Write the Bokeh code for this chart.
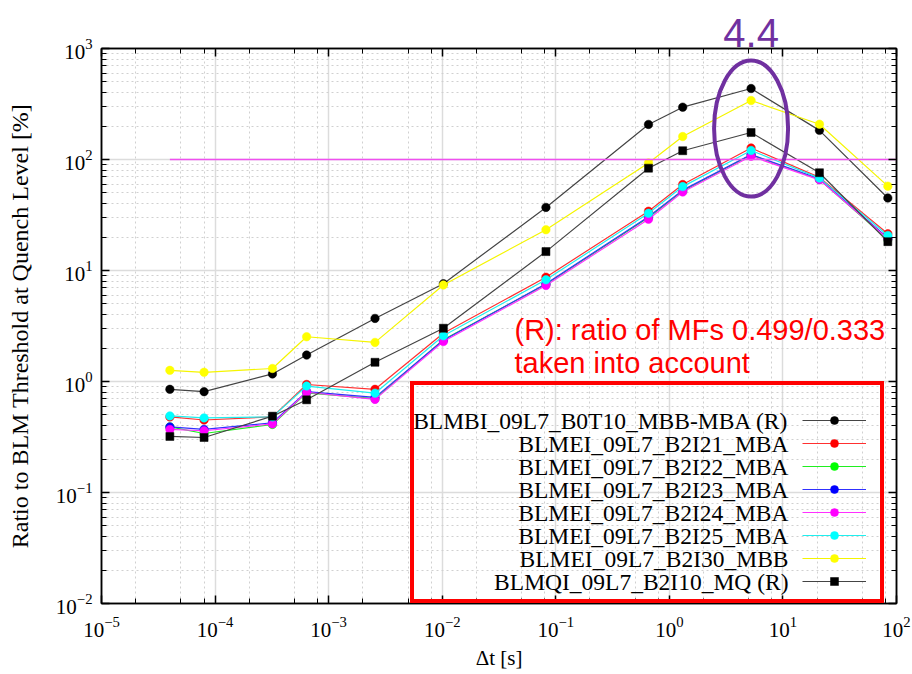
from bokeh.plotting import figure
from bokeh.models import (LogAxis, FixedTicker, Label, Legend,
                          LegendItem, CustomJSTickFormatter)
from bokeh.embed import file_html
from bokeh.resources import INLINE

# ---------------- data ----------------
dt = [4.0e-5, 8.0e-5, 3.2e-4, 6.4e-4, 2.56e-3, 1.024e-2, 8.192e-2, 0.655, 1.311, 5.243, 20.97, 83.89]

names = [
    "BLMBI_09L7_B0T10_MBB-MBA (R)",
    "BLMEI_09L7_B2I21_MBA",
    "BLMEI_09L7_B2I22_MBA",
    "BLMEI_09L7_B2I23_MBA",
    "BLMEI_09L7_B2I24_MBA",
    "BLMEI_09L7_B2I25_MBA",
    "BLMEI_09L7_B2I30_MBB",
    "BLMQI_09L7_B2I10_MQ (R)",
]
blmbi_b0t10 = [0.85, 0.81, 1.17, 1.73, 3.7, 7.6, 37.0, 207.0, 296.0, 436.0, 183.0, 45.0]
blmei_b2i21 = [0.48, 0.45, 0.48, 0.94, 0.85, 2.72, 8.7, 34.2, 59.5, 127.0, 69.0, 21.4]
blmei_b2i22 = [0.39, 0.34, 0.41, 0.79, 0.70, 2.38, 7.5, 30.0, 52.0, 110.0, 66.0, 19.0]
blmei_b2i23 = [0.39, 0.37, 0.425, 0.81, 0.72, 2.35, 7.6, 30.5, 53.0, 111.0, 67.0, 19.6]
blmei_b2i24 = [0.37, 0.36, 0.415, 0.80, 0.69, 2.29, 7.33, 29.0, 51.0, 107.0, 65.6, 19.3]
blmei_b2i25 = [0.49, 0.47, 0.48, 0.91, 0.785, 2.58, 8.25, 32.8, 57.0, 120.5, 68.0, 20.7]
blmei_b2i30 = [1.26, 1.21, 1.31, 2.53, 2.25, 7.4, 23.3, 93.0, 161.0, 340.0, 208.0, 57.5]
blmqi_b2i10 = [0.32, 0.313, 0.487, 0.684, 1.49, 3.02, 14.8, 83.5, 120.0, 175.0, 76.0, 18.2]
values = [blmbi_b0t10, blmei_b2i21, blmei_b2i22, blmei_b2i23,
          blmei_b2i24, blmei_b2i25, blmei_b2i30, blmqi_b2i10]

marker_colors = ["black", "#ff0000", "#00ff00", "#0000ff", "#ff00ff", "#00ffff", "#ffff00", "black"]
line_colors = ["#444444", "#ff3030", "#20ee20", "#3030ff", "#ff30ff", "#20eeee", "#f5f500", "#444444"]
markers = ["circle"] * 7 + ["square"]

# quench level reference (100 %)
ref_x0, ref_x1 = 4.0e-5, 100.0
ref_level = 100.0

# highlighted point
peak_x = 5.243
peak_y = 190.0
peak_text = "4.4"
note_lines = ["(R): ratio of MFs 0.499/0.333", "taken into account"]

x_major = [10.0 ** e for e in range(-5, 3)]
x_minor = [k * 10.0 ** e for e in range(-5, 2) for k in (2, 5, 8)]
y_major = [10.0 ** e for e in range(-2, 4)]
y_minor = [k * 10.0 ** e for e in range(-2, 3) for k in range(2, 10)]

# ---------------- figure ----------------
W, H = 912, 674
ML, MR, MT, MB = 101, 16, 48, 71
FB = H - MB  # canvas y of the frame bottom

p = figure(width=W, height=H, x_axis_type="log", y_axis_type="log",
           x_range=(1e-5, 1e2), y_range=(1e-2, 1e3),
           min_border_left=ML, min_border_right=MR, min_border_top=MT, min_border_bottom=MB,
           output_backend="svg", toolbar_location=None,
           background_fill_color="white", border_fill_color="white")
p.outline_line_color = "black"
p.outline_line_width = 1.5

xt = FixedTicker(ticks=x_major, minor_ticks=x_minor)
yt = FixedTicker(ticks=y_major, minor_ticks=y_minor)
p.xaxis.ticker = xt
p.yaxis.ticker = yt
p.xgrid.ticker = xt
p.ygrid.ticker = yt

for g in (p.xgrid, p.ygrid):
    g.grid_line_color = "#dcdcdc"
    g.grid_line_width = 1.5
    g.minor_grid_line_color = "#d0d0d0"
    g.minor_grid_line_width = 1
    g.minor_grid_line_dash = "2 3"

SERIF = "Liberation Serif"
SANS = "Liberation Sans"


def style_axis(ax):
    ax.axis_line_color = "black"
    ax.axis_line_width = 1.5
    ax.major_tick_line_color = "black"
    ax.major_tick_line_width = 1.5
    ax.minor_tick_line_color = "black"
    ax.minor_tick_line_width = 1
    ax.major_tick_in = 8
    ax.major_tick_out = 0
    ax.minor_tick_in = 5
    ax.minor_tick_out = 0
    ax.major_label_text_font = SERIF
    ax.major_label_text_color = "black"


for ax in (p.xaxis[0], p.yaxis[0]):
    style_axis(ax)
    ax.major_label_text_font_size = "21px"
    ax.axis_label_text_font = SERIF
    ax.axis_label_text_font_style = "normal"
    ax.axis_label_text_color = "black"

p.xaxis.major_label_standoff = 13
p.yaxis.major_label_standoff = 9
p.xaxis.axis_label = "Δt [s]"
p.xaxis.axis_label_text_font_size = "21px"
p.xaxis.axis_label_standoff = 6
p.yaxis.axis_label = "Ratio to BLM Threshold at Quench Level [%]"
p.yaxis.axis_label_text_font_size = "24px"
p.yaxis.axis_label_standoff = 20

blank = CustomJSTickFormatter(code="return ''")
top_ax = LogAxis(ticker=xt, formatter=blank, major_label_standoff=0,
                 major_label_text_font_size="1px")
right_ax = LogAxis(ticker=yt, formatter=blank, major_label_standoff=0,
                   major_label_text_font_size="1px")
style_axis(top_ax)
style_axis(right_ax)
p.add_layout(top_ax, "above")
p.add_layout(right_ax, "right")

# value written above the highlighted point (an unlined top axis with one tick)
peak_ax = LogAxis(ticker=FixedTicker(ticks=[peak_x], minor_ticks=[]),
                  formatter=CustomJSTickFormatter(args=dict(txt=peak_text), code="return txt"),
                  axis_line_color=None, major_tick_line_color=None, minor_tick_line_color=None,
                  major_tick_in=0, major_tick_out=0, minor_tick_in=0, minor_tick_out=0,
                  major_label_standoff=2, major_label_text_font=SANS,
                  major_label_text_font_size="40px", major_label_text_color="#7030a0")
p.add_layout(peak_ax, "above")

# series
items = []
for name, ys, mc, lc, mk in zip(names, values, marker_colors, line_colors, markers):
    lr = p.line(dt, ys, line_color=lc, line_width=1.2)
    sr = p.scatter(dt, ys, marker=mk, size=8.5 if mk == "circle" else 8,
                   fill_color=mc, line_color=mc, line_width=0.5)
    items.append(LegendItem(label=" ", renderers=[lr, sr]))

# reference line at 100 %
p.segment(x0=[ref_x0], y0=[ref_level], x1=[ref_x1], y1=[ref_level],
          line_color="#f050f0", line_width=1.4)

# highlight ellipse
p.ellipse(x=[peak_x], y=[peak_y], width=74, height=136,
          width_units="screen", height_units="screen",
          fill_alpha=0, line_color="#7030a0", line_width=4)

# red note
for i, t in enumerate(note_lines):
    p.add_layout(Label(x=413, y=FB - (329 + 33 * i), x_units="screen", y_units="screen",
                       text=t, text_font=SANS, text_font_size="29px",
                       text_color="#ff0000", text_align="left", text_baseline="middle"))

# red frame around the legend (a legend box with an empty sample)
frame_holder = p.line([], [], line_alpha=0)
box_left, box_right, box_top = 410, 882, 383
box = Legend(items=[LegendItem(label=" ", renderers=[frame_holder])],
             location=(box_left - ML, 0),
             glyph_width=box_right - box_left - 6, glyph_height=FB - box_top - 6,
             padding=0, margin=0, spacing=0, label_standoff=0, label_width=0, label_height=0,
             label_text_font_size="1px",
             border_line_color="#ff0000", border_line_width=4.5, border_line_alpha=1,
             background_fill_alpha=0)
p.add_layout(box, "center")

# legend: glyph samples on the right, labels right-aligned to their left
ROW0, STEP = 420, 23
leg = Legend(items=items, location=(802 - ML, FB - (ROW0 + STEP * 7 + 10)),
             glyph_width=64, glyph_height=20, spacing=STEP - 20, padding=0, margin=0,
             label_standoff=0, label_width=0, label_height=0,
             label_text_font_size="1px",
             border_line_alpha=0, background_fill_alpha=0)
p.add_layout(leg, "center")
for i, name in enumerate(names):
    p.add_layout(Label(x=788 - ML, y=FB - (ROW0 + STEP * i), x_units="screen", y_units="screen",
                       text=name, text_font=SERIF, text_font_size="23.5px",
                       text_color="black", text_align="right", text_baseline="middle"))

open("out.html", "w").write(file_html(p, INLINE))
